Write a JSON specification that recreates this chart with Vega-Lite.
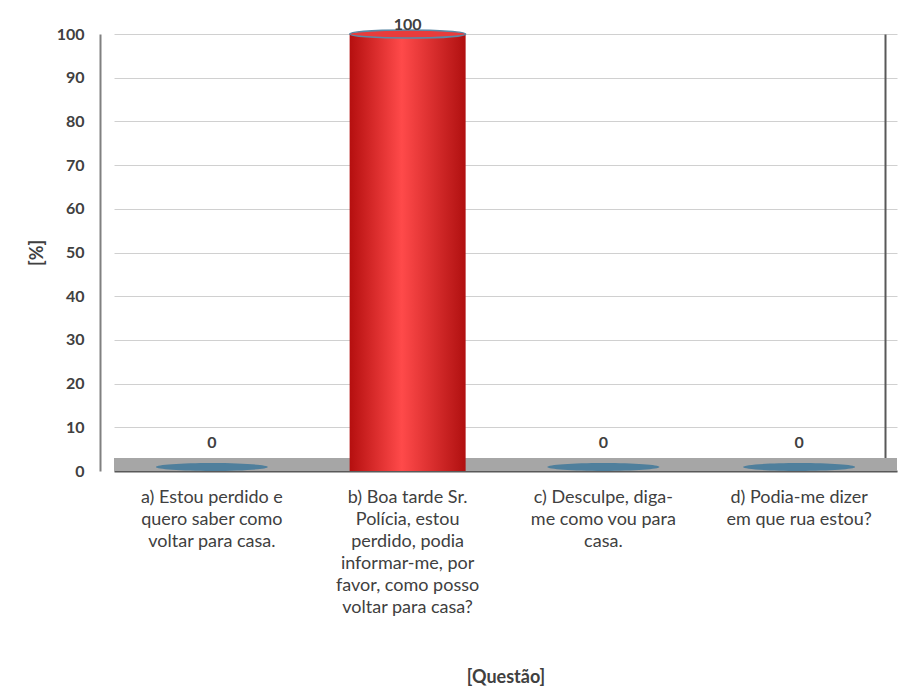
{
  "$schema": "https://vega.github.io/schema/vega-lite/v6.json",
  "autosize": {"type": "none"},
  "width": 783,
  "height": 437,
  "padding": {"left": 114, "top": 34, "right": 3, "bottom": 220},
  "background": "white",
  "config": {
    "font": "Lato",
    "view": {"stroke": null},
    "axis": {"labelColor": "#404040", "titleColor": "#404040", "labelFont": "Lato", "titleFont": "Lato"},
    "text": {"font": "Lato"}
  },
  "data": {
    "values": [
      {"questao": "a) Estou perdido e quero saber como voltar para casa.", "pct": 0},
      {"questao": "b) Boa tarde Sr. Polícia, estou perdido, podia informar-me, por favor, como posso voltar para casa?", "pct": 100},
      {"questao": "c) Desculpe, diga-me como vou para casa.", "pct": 0},
      {"questao": "d) Podia-me dizer em que rua estou?", "pct": 0}
    ]
  },
  "encoding": {
    "x": {
      "field": "questao",
      "type": "nominal",
      "sort": null,
      "scale": {"paddingInner": 0.4, "paddingOuter": 0.2},
      "axis": {
        "title": "[Questão]",
        "titleFontSize": 18,
        "titleFontWeight": "bold",
        "titlePadding": 52,
        "labelAngle": 0,
        "labelFontSize": 18,
        "labelFontWeight": "normal",
        "labelLineHeight": 22,
        "labelPadding": 17,
        "labelBaseline": "top",
        "ticks": false,
        "domainColor": "#595959",
        "domainWidth": 2,
        "labelExpr": "datum.value[0] == 'a' ? ['a) Estou perdido e', 'quero saber como', 'voltar para casa.'] : datum.value[0] == 'b' ? ['b) Boa tarde Sr.', 'Polícia, estou', 'perdido, podia', 'informar-me, por', 'favor, como posso', 'voltar para casa?'] : datum.value[0] == 'c' ? ['c) Desculpe, diga-', 'me como vou para', 'casa.'] : ['d) Podia-me dizer', 'em que rua estou?']"
      }
    }
  },
  "layer": [
    {
      "mark": {"type": "rect", "color": "#a6a6a6"},
      "encoding": {
        "x": null,
        "y": {
          "datum": 0,
          "type": "quantitative",
          "scale": {"domain": [0, 100]},
          "axis": {
            "orient": "right",
            "labels": false,
            "ticks": false,
            "grid": false,
            "title": null,
            "domainColor": "#595959",
            "domainWidth": 2,
            "offset": -12
          }
        },
        "y2": {"datum": 3}
      }
    },
    {
      "mark": {
        "type": "bar",
        "size": 116,
        "color": {
          "gradient": "linear",
          "x1": 0, "x2": 1, "y1": 0, "y2": 0,
          "stops": [
            {"offset": 0, "color": "#b50f0f"},
            {"offset": 0.45, "color": "#ff4a4a"},
            {"offset": 1, "color": "#b01010"}
          ]
        }
      },
      "encoding": {
        "y": {
          "field": "pct",
          "type": "quantitative",
          "scale": {"domain": [0, 100]},
          "axis": {
            "orient": "left",
            "title": "[%]",
            "titleFontSize": 18,
            "titleFontWeight": "bold",
            "titlePadding": 10,
            "values": [0, 10, 20, 30, 40, 50, 60, 70, 80, 90, 100],
            "labelFontSize": 16,
            "labelFontWeight": "bold",
            "labelPadding": 16,
            "ticks": false,
            "offset": 14,
            "domainColor": "#808080",
            "domainWidth": 2,
            "grid": true,
            "gridColor": "#d0d0d0",
            "gridWidth": 1
          }
        }
      }
    },
    {
      "transform": [{"filter": "datum.pct > 0"}],
      "mark": {
        "type": "point",
        "filled": true,
        "shape": "M -1 0 A 1 0.07 0 1 1 1 0 A 1 0.07 0 1 1 -1 0 Z",
        "size": 13456,
        "color": "#e83c3c",
        "stroke": "#5b89a6",
        "strokeWidth": 1.5,
        "opacity": 1
      },
      "encoding": {"y": {"field": "pct", "type": "quantitative", "axis": null}}
    },
    {
      "transform": [{"filter": "datum.pct == 0"}],
      "mark": {
        "type": "point",
        "filled": true,
        "shape": "M -1 0 A 1 0.07 0 1 1 1 0 A 1 0.07 0 1 1 -1 0 Z",
        "size": 12544,
        "color": "#4f7f9c",
        "opacity": 1,
        "yOffset": -4
      },
      "encoding": {"y": {"field": "pct", "type": "quantitative", "axis": null}}
    },
    {
      "transform": [{"filter": "datum.pct > 0"}],
      "mark": {"type": "text", "dy": -9, "fontSize": 16, "fontWeight": "bold", "color": "#404040"},
      "encoding": {"y": {"field": "pct", "type": "quantitative", "axis": null}, "text": {"field": "pct", "type": "quantitative"}}
    },
    {
      "transform": [{"filter": "datum.pct == 0"}],
      "mark": {"type": "text", "dy": -28, "fontSize": 16, "fontWeight": "bold", "color": "#404040"},
      "encoding": {"y": {"field": "pct", "type": "quantitative", "axis": null}, "text": {"field": "pct", "type": "quantitative"}}
    }
  ],
  "resolve": {"axis": {"y": "independent"}}
}
